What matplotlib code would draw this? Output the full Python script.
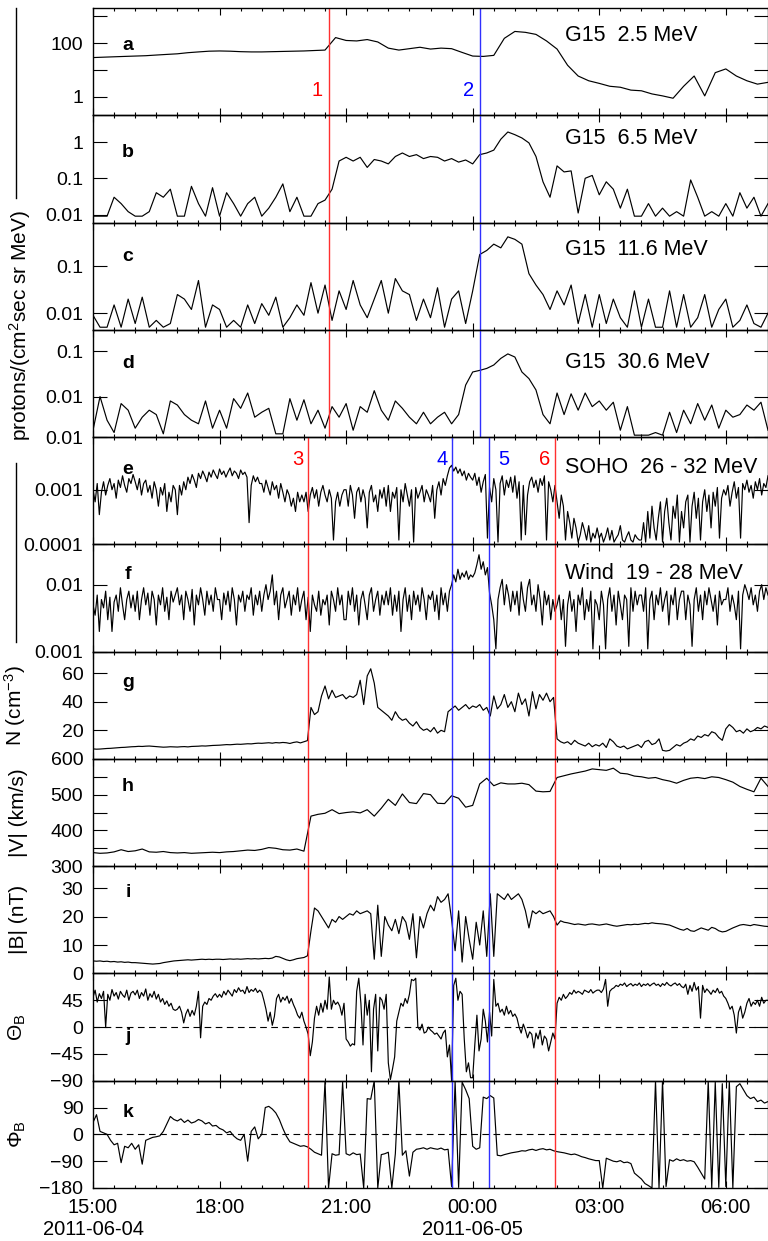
import numpy as np
import pandas as pd
import matplotlib
matplotlib.use("Agg")
import matplotlib.pyplot as plt
import matplotlib.dates as mdates
from matplotlib.lines import Line2D
from matplotlib.ticker import NullLocator, FuncFormatter

plt.rcParams['font.family'] = ['Liberation Sans', 'DejaVu Sans']
plt.rcParams['mathtext.fontset'] = 'custom'
plt.rcParams['mathtext.rm'] = 'Liberation Sans'
plt.rcParams['mathtext.it'] = 'Liberation Sans:italic'
plt.rcParams['mathtext.bf'] = 'Liberation Sans:bold'

# ----------------------------
# data
# ----------------------------
t15 = pd.date_range("2011-06-04 15:00", periods=65, freq="15min")
t10 = pd.date_range("2011-06-04 15:00", periods=97, freq="10min")
t5 = pd.date_range("2011-06-04 15:00", periods=193, freq="5min")
t3 = pd.date_range("2011-06-04 15:00", periods=321, freq="3min")

# G15 2.5 MeV (15 min)
g15_25 = [29, 30, 31, 32, 33, 34, 36, 38, 40, 44, 47, 50, 51, 50, 48, 47, 47, 48, 49, 50, 51, 53, 55,
          160, 125, 120, 135, 110, 65, 55, 62, 70, 60, 65, 62, 45, 33, 32, 35, 150, 270, 250, 210,
          120, 60, 15, 6, 4, 3.2, 2.5, 2.3, 1.8, 1.7, 1.3, 1.1, 0.9, 2.5, 6, 1.1, 8, 11, 6, 4, 3, 3.5]

# G15 6.5 MeV (10 min)
g15_65 = [0.009, 0.009, 0.009, 0.03, 0.02, 0.012,
          0.009, 0.009, 0.012, 0.04, 0.03, 0.05,
          0.009, 0.009, 0.06, 0.02, 0.009, 0.055,
          0.009, 0.04, 0.02, 0.009, 0.02, 0.03,
          0.009, 0.015, 0.03, 0.07, 0.012, 0.03,
          0.009, 0.009, 0.02, 0.025, 0.05, 0.3,
          0.38, 0.3, 0.38, 0.2, 0.33, 0.3,
          0.25, 0.4, 0.5, 0.4, 0.45, 0.35,
          0.4, 0.38, 0.3, 0.35, 0.28, 0.32,
          0.25, 0.45, 0.5, 0.6, 1.2, 1.9,
          1.6, 1.3, 0.95, 0.4, 0.08, 0.03,
          0.22, 0.15, 0.16, 0.011, 0.1, 0.12,
          0.035, 0.08, 0.05, 0.015, 0.05, 0.009,
          0.009, 0.02, 0.009, 0.015, 0.009, 0.012,
          0.009, 0.09, 0.03, 0.009, 0.012, 0.009,
          0.02, 0.009, 0.04, 0.015, 0.03, 0.009,
          0.02]

# G15 11.6 MeV (10 min)
g15_116 = [0.009, 0.005, 0.005, 0.015, 0.005, 0.02,
           0.006, 0.022, 0.005, 0.007, 0.005, 0.006,
           0.025, 0.02, 0.012, 0.05, 0.005, 0.015,
           0.012, 0.005, 0.007, 0.005, 0.015, 0.006,
           0.016, 0.009, 0.022, 0.005, 0.008, 0.015,
           0.009, 0.045, 0.01, 0.04, 0.007, 0.03,
           0.012, 0.05, 0.015, 0.008, 0.02, 0.05,
           0.01, 0.055, 0.03, 0.025, 0.007, 0.02,
           0.008, 0.035, 0.005, 0.02, 0.03, 0.006,
           0.03, 0.18, 0.22, 0.3, 0.25, 0.43,
           0.38, 0.3, 0.07, 0.04, 0.025, 0.012,
           0.03, 0.015, 0.04, 0.006, 0.025, 0.005,
           0.025, 0.006, 0.02, 0.008, 0.005, 0.03,
           0.005, 0.02, 0.005, 0.005, 0.03, 0.005,
           0.025, 0.005, 0.008, 0.025, 0.005, 0.012,
           0.02, 0.005, 0.007, 0.015, 0.006, 0.005,
           0.01]

# G15 30.6 MeV (10 min)
g15_306 = [0.0018, 0.01, 0.003, 0.0016, 0.007, 0.005,
           0.002, 0.0035, 0.005, 0.004, 0.0015, 0.008,
           0.0065, 0.004, 0.003, 0.0025, 0.008, 0.002,
           0.005, 0.002, 0.009, 0.0055, 0.012, 0.0035,
           0.0045, 0.0055, 0.0015, 0.0015, 0.009, 0.003,
           0.0085, 0.0025, 0.005, 0.002, 0.006, 0.0035,
           0.007, 0.0018, 0.006, 0.0045, 0.0135, 0.005,
           0.003, 0.008, 0.0055, 0.0035, 0.0025, 0.0045,
           0.0025, 0.0035, 0.0045, 0.0025, 0.004, 0.018,
           0.035, 0.038, 0.042, 0.05, 0.07, 0.088,
           0.075, 0.035, 0.025, 0.014, 0.004, 0.0025,
           0.012, 0.004, 0.0115, 0.005, 0.012, 0.006,
           0.008, 0.005, 0.0075, 0.0018, 0.006, 0.0014,
           0.0014, 0.0014, 0.0016, 0.0014, 0.0045, 0.0016,
           0.005, 0.0025, 0.007, 0.003, 0.0065, 0.002,
           0.005, 0.0035, 0.004, 0.0065, 0.005, 0.0075,
           0.0018]

# SOHO 26-32 MeV (3 min, units of 1e-4)
soho = np.array([
    10, 6, 13, 3.5, 9, 14, 8, 12, 16, 10, 13, 7, 15, 11, 18, 12, 9, 16, 13, 19,
    14, 10, 16, 8, 13, 15, 9, 12, 7, 14, 10, 5, 11, 8, 13, 4, 9, 6, 12, 10,
    3.5, 12, 8, 14, 10, 17, 13, 19, 15, 11, 20, 16, 22, 18, 14, 21, 17, 23, 19, 16,
    24, 19, 22, 17, 21, 25, 18, 22, 20, 16, 23, 19, 21, 17, 2.5, 12, 18, 14, 17, 13,
    13, 9, 15, 11, 8, 14, 10, 12, 7, 13, 9, 6, 10, 8, 5, 7, 4, 9, 6, 8,
    6, 9, 4, 8, 11, 7, 10, 5, 9, 12, 8, 6, 10, 7, 1.2, 6, 9, 5, 8, 10,
    10, 5, 12, 8, 3, 9, 11, 6, 10, 7, 2, 9, 12, 6, 8, 4, 10, 7, 11, 5,
    12, 4, 9, 7, 11, 1.2, 10, 6, 13, 8, 5, 10, 1.1, 11, 7, 9, 12, 6, 10, 8,
    6, 12, 3, 10, 14, 8, 16, 12, 18, 25, 28, 22, 26, 20, 24, 18, 22, 15, 20, 17,
    15, 20, 12, 17, 9, 14, 19, 1.3, 11, 6, 16, 10, 1.1, 13, 18, 8, 15, 11, 17, 9,
    18, 7, 14, 1.2, 12, 1.5, 8, 14, 17, 11, 15, 9, 16, 12, 18, 1.2, 14, 10, 6, 12,
    6, 3, 8, 5, 1.2, 4, 2.5, 1.3, 3, 2, 1.1, 1.5, 2.5, 1.8, 1.2, 2.2, 1.1, 1.6, 1.3, 2,
    1.3, 1.6, 1.1, 1.4, 2, 1.2, 1.8, 1.1, 1.3, 1.5, 2.2, 1.2, 1.1, 1.4, 1.7, 1.2, 1.1, 1.5, 1.3, 1.2,
    1.2, 2.5, 1.1, 4, 1.3, 5, 2, 1.2, 3, 6, 1.1, 4, 7, 2.5, 1.2, 5, 3, 8, 1.1, 4,
    2, 6, 8, 1.1, 5, 9, 3, 7, 1.2, 6, 10, 4, 8, 2, 9, 5, 11, 1.3, 7, 10,
    8, 12, 5, 9, 14, 7, 11, 1.3, 13, 10, 15, 9, 12, 7, 14, 10, 16, 8, 13, 11,
    18]) * 1e-4

# Wind 19-28 MeV (3 min, units of 1e-3)
wind = np.array([
    5, 3.5, 7, 2, 6, 4.5, 8, 3, 6.5, 2, 5.5, 7, 4, 9, 5, 3, 6, 8, 4.5, 7,
    4, 8, 3, 6, 9, 5, 7.5, 3.5, 8, 6, 2.5, 7, 5, 9, 4, 6.5, 3, 8, 5.5, 7,
    9, 5, 7, 3, 8, 6, 4, 8.5, 2.5, 7, 5, 9, 6, 3.5, 8, 5, 7, 4, 9, 6,
    6, 3, 7.5, 5, 8, 4, 9, 6, 2.5, 7, 5.5, 8, 4, 7, 6, 9, 3.5, 7, 5, 8,
    4, 7, 10, 6, 8, 14, 5, 8, 3, 7, 9, 4.5, 6, 8, 3.5, 7, 5, 9, 4, 6,
    8, 3, 6.5, 2, 7, 5, 4, 8, 3.5, 6, 5, 7, 2.5, 8, 6, 4, 9, 5, 7, 3,
    3, 8, 5, 9, 4, 7, 2.5, 6, 8, 5, 3, 7, 9, 4, 6, 8, 3.5, 7, 5, 8,
    5, 9, 3.5, 7, 4, 8, 2, 6, 9, 4, 7, 3, 8, 5, 7, 4, 9, 6, 3, 7,
    6, 8, 4, 7, 3, 9, 5, 7.5, 4, 8, 10, 14, 11, 17, 12, 15, 13, 16, 12, 14,
    13, 15, 20, 28, 17, 22, 14, 18, 7.5, 5, 3, 1.1, 6, 9, 12, 5, 10, 7, 4, 8,
    5, 8, 3.5, 11, 6, 4, 9, 12, 5, 7, 4, 10, 6, 2.5, 8, 5, 7, 3, 6, 4,
    5, 7, 3, 6, 1.2, 5, 8, 4, 6, 2, 7, 5, 9, 3, 6, 4, 8, 1.1, 6, 5,
    3, 8, 5, 1.1, 6, 9, 4, 7, 2.5, 8, 5, 3, 7, 6, 1.2, 9, 4, 8, 5, 7,
    7, 4, 9, 1.1, 6, 8, 3, 7, 5, 9, 4, 6, 8, 2.5, 7, 5, 9, 3, 6, 8,
    8, 3, 7, 5, 1.2, 6, 9, 4, 7, 3, 8, 5, 9, 6, 4, 7, 2.5, 8, 5, 6,
    6, 9, 4, 7, 5, 3, 8, 1.1, 7, 10, 8, 6, 9, 5, 7, 4, 8, 10, 6, 9,
    7]) * 1e-3

# N (cm^-3), 5 min
dens = [7.0, 6.8, 6.9, 7.1, 7.3, 7.4, 7.6, 7.8, 8.0, 8.1, 8.3, 8.5,
        8.6, 8.8, 8.7, 8.9, 9.0, 8.8, 8.6, 8.4, 8.2, 8.3, 8.5, 8.4,
        8.3, 8.5, 8.6, 8.4, 8.7, 8.8, 8.9, 9.1, 9.0, 9.2, 9.4, 9.5,
        9.6, 9.8, 10.0, 9.9, 10.1, 10.3, 10.2, 10.4, 10.6, 10.5, 10.8, 11.0,
        10.9, 11.1, 11.3, 11.0, 11.4, 11.2, 11.5, 11.3, 10.8, 11.5, 11.9, 11.2,
        12.0, 12.8, 36, 31, 33, 44, 51, 42, 48, 43, 44, 45,
        42, 44, 43, 45, 55, 38, 58, 63, 53, 36, 34, 32,
        30, 27, 33, 29, 27, 28, 25, 23, 26, 22, 20, 21,
        19, 22, 18, 20, 19, 33, 35, 37, 34, 36, 38, 35,
        37, 36, 38, 34, 36, 30, 44, 35, 38, 45, 36, 40,
        33, 46, 38, 42, 30, 47, 35, 45, 41, 46, 40, 43,
        14, 12, 11, 12, 10, 13, 11, 10, 9, 11, 8.5, 10,
        9, 11, 8, 14, 12, 9, 8, 9, 7, 8, 9, 10,
        8, 12, 13, 10, 11, 14, 6, 5.5, 6, 8, 10, 9,
        11, 12, 14, 13, 16, 15, 17, 16, 19, 18, 15, 13,
        21, 24, 22, 19, 20, 18, 21, 19, 20, 22, 21, 23,
        22]

# |V| (km/s), 10 min
speed = [338, 336, 337, 340, 346, 341,
         343, 348, 340, 339, 341, 338,
         337, 338, 336, 337, 338, 339,
         338, 340, 341, 343, 345, 344,
         347, 352, 350, 346, 345, 348,
         342, 440, 445, 448, 458, 447,
         450, 452, 449, 458, 440, 462,
         487, 470, 502, 478, 475, 503,
         500, 476, 475, 497, 490, 465,
         470, 530, 546, 525, 533, 530,
         530, 532, 528, 510, 508, 509,
         548, 553, 558, 562, 566, 572,
         570, 568, 574, 560, 558, 552,
         550, 546, 548, 542, 538, 532,
         540, 546, 548, 545, 550, 548,
         542, 535, 523, 515, 508, 546,
         523]

# |B| (nT), 5 min
bmag = [4.4, 4.3, 4.4, 4.2, 4.3, 4.1, 4.2, 4.0, 4.1, 3.9, 4.0, 3.8,
        3.8, 3.7, 3.6, 3.5, 3.4, 3.3, 3.4, 3.5, 3.8, 4.0, 4.2, 4.4,
        4.5, 4.6, 4.7, 4.8, 4.7, 4.8, 4.9, 5.0, 4.9, 5.0, 4.9, 5.0,
        5.0, 4.9, 5.0, 5.1, 5.0, 5.1, 5.0, 5.1, 5.2, 5.1, 5.2, 5.1,
        5.2, 5.3, 5.2, 5.4, 6.0, 5.8, 5.3, 4.8, 4.5, 4.8, 5.2, 5.4,
        5.6, 6.2, 15, 23, 22, 20, 18, 16, 19, 18, 20, 19,
        20, 21, 20.5, 22, 21, 21.5, 22, 21, 5, 24, 6, 20,
        17, 15, 19, 14, 20, 18, 12, 21, 5.5, 20, 16, 21,
        24, 22, 27, 25, 26, 28, 19, 8, 22, 4, 20, 12,
        5, 18, 10, 22, 6, 28, 6, 28, 27, 26, 28, 26,
        27, 28, 26, 22, 16, 22, 21, 22, 21, 21.5, 22, 20,
        17, 18.5, 18, 17.8, 17.5, 17.2, 17.4, 17.2, 17.0, 17.3, 17.4, 17.2,
        17.0, 17.2, 17.4, 17.1, 16.8, 16.6, 16.8, 17.0, 17.2, 17.1, 17.3, 17.2,
        17.4, 17.6, 17.5, 17.8, 17.6, 17.5, 17.4, 17.2, 17.0, 16.5, 16.0, 15.5,
        15.2, 15.8, 15.0, 14.8, 15.4, 16.0, 15.6, 15.2, 16.2, 15.8, 15.0, 14.6,
        14.8, 15.4, 16.0, 16.5, 17.0, 17.2, 17.0, 16.8, 17.2, 17.0, 16.8, 16.6,
        16.5]

# Theta_B (deg), 3 min
theta = [50, 62, 42, 56, 48, 60, 0, 55, 45, 63, 52, 58, 47, 60, 54, 50, 62, 45, 57, 60,
         54, 62, 48, 58, 52, 64, 45, 56, 50, 60, 47, 55, 42, 48, 38, 44, 35, 40, 30, 28,
         30, 35, 25, 7, 22, 30, 18, 28, 20, 35, 60, -18, 35, 42, 38, 48, 45, 52, 56, 50,
         55, 50, 60, 54, 62, 57, 52, 63, 58, 66, 60, 62, 56, 68, 58, 63, 60, 65, 58, 62,
         58, 45, 30, 10, 25, 3, 18, 48, 55, 42, 50, 45, 52, 40, 48, 38, 30, 20, 15, 25,
         10, 0, -12, -48, -25, 15, 35, 20, 40, 25, 45, 30, 84, 30, 45, 38, 42, 35, 20, 40,
         -20, -25, -32, -28, -30, 60, 82, 40, -30, 55, 20, 45, -75, 30, 55, -40, 50, 45, 30, 55,
         -60, -88, -70, -50, 10, 25, 40, 35, 48, 40, 55, 80, 78, 82, 0, -5, 5, -10, -8, 0,
         -5, -8, -12, -10, -15, -20, -10, -5, -50, -30, -90, 70, 82, 45, 60, 55, -20, -75, -60, -85,
         -85, -30, 20, -40, -20, 30, 10, -25, 25, -15, 80, 35, 40, 25, 30, 20, 35, 22, 28, 18,
         22, 15, 0, -10, 5, -5, -18, -8, -12, -35, -10, -20, -5, -30, -15, -20, -40, -25, -10, -20,
         40, 50, 45, 55, 48, 52, 58, 55, 62, 57, 60, 58, 55, 62, 60, 58, 63, 57, 60, 62,
         62, 58, 64, 80, 35, 60, 64, 66, 70, 68, 72, 70, 74, 68, 71, 73, 69, 72, 70, 74,
         68, 72, 70, 73, 69, 72, 74, 70, 72, 68, 73, 70, 75, 71, 69, 72, 74, 70, 73, 68,
         66, 72, 55, 70, 60, 75, 62, 68, 15, 70, 58, 64, 60, 55, 62, 58, 65, 57, 60, 52,
         48, 40, 30, 35, 20, -10, 25, 35, 15, 25, 40, 48, 35, 42, 38, 45, 35, 50, 40, 45,
         45]

# Phi_B (deg), 5 min
phi = [40, 66, 10, 5, 0, -20, -35, -30, -95, -40, -45, -30,
       -50, -35, -100, -20, -15, -10, -8, -5, 10, 35, 60, 50,
       45, 52, 40, 48, 38, 42, 50, 45, 35, 40, 28, 30,
       20, 15, 5, 10, -5, -15, -20, 0, -90, 10, 25, -15,
       0, 90, 94, 85, 72, 50, 20, -6, -25, -30, -35, -40,
       -38, -42, -50, -60, -65, -70, 180, -180, -65, -70, -68, 175,
       -65, -70, -62, -68, -66, -180, 120, 118, 180, -180, -68, -65,
       -60, -180, -65, 180, -70, -55, -140, -60, -50, -48, -45, -50,
       -45, -48, -50, -46, -52, -50, -175, 178, -178, 175, 150, 120,
       -40, -50, -45, 125, 120, 130, 122, -70, -72, -68, -65, -62,
       -60, -58, -55, -56, -52, -50, -54, -50, -48, -52, -50, -55,
       -58, -60, -62, -65, -68, -66, -70, -75, -78, -82, -85, -88,
       -88, -180, -80, -85, -90, -92, -88, -95, -93, -98, -130, -140,
       -150, -165, -172, -180, 180, -180, 180, -175, -85, -90, -82, -88,
       -85, -90, -88, -92, -110, -130, -150, 180, -180, 175, -178, 170,
       -175, 178, -180, 160, 170, 150, 130, 120, 125, 110, 115, 105,
       110]

# event lines: (time, label, color)
events_top = [("2011-06-04 20:36", "1", "red"), ("2011-06-05 00:11", "2", "blue")]
events_bot = [("2011-06-04 20:06", "3", "red"), ("2011-06-04 23:31", "4", "blue"),
              ("2011-06-05 00:23", "5", "blue"), ("2011-06-05 01:57", "6", "red")]

# ----------------------------
# figure layout
# ----------------------------
W, H = 768, 1241
fig = plt.figure(figsize=(W / 100, H / 100), dpi=100)
x0, x1 = 93, 768
ytop, ybot = 8, 1188
npan = 11
ph = (ybot - ytop) / npan
axes = []
for k in range(npan):
    top = ytop + k * ph
    ax = fig.add_axes([x0 / W, 1 - (top + ph) / H, (x1 - x0) / W, ph / H])
    ax.set_facecolor("none")
    axes.append(ax)

t_start = pd.Timestamp("2011-06-04 15:00")
t_end = pd.Timestamp("2011-06-05 07:00")

for ax in axes:
    ax.set_xlim(t_start, t_end)
    ax.xaxis.set_major_locator(mdates.HourLocator(byhour=range(0, 24, 3)))
    ax.xaxis.set_minor_locator(mdates.MinuteLocator(byminute=[0, 30]))
    ax.tick_params(axis="x", which="both", direction="in", top=True, bottom=True, labelbottom=False)
    ax.tick_params(axis="x", which="major", length=5, width=0.8)
    ax.tick_params(axis="x", which="minor", length=2.4, width=0.8)
    ax.tick_params(axis="y", which="both", direction="in", left=True, right=True,
                   length=10, width=0.8, labelsize=14, pad=7)
    for s in ax.spines.values():
        s.set_linewidth(1.0)

lw = 0.85
series = [
    (t15, g15_25, (0.21, 2000), [1, 10, 100, 1000], ["1", "", "100", ""]),
    (t10, g15_65, (0.006, 5.5), [0.01, 0.1, 1], ["0.01", "0.1", "1"]),
    (t10, g15_116, (0.0044, 0.87), [0.01, 0.1], ["0.01", "0.1"]),
    (t10, g15_306, (0.00127, 0.3), [0.00127, 0.01, 0.1], ["0.01", "0.01", "0.1"]),
    (t3, soho, (1e-4, 0.0092), [1e-4, 1e-3], ["0.0001", "0.001"]),
    (t3, wind, (1e-3, 0.04), [1e-3, 1e-2], ["0.001", "0.01"]),
]
for ax, (tt, vv, lim, tk, lb) in zip(axes[:6], series):
    ax.plot(tt, vv, color="k", lw=lw)
    ax.set_yscale("log")
    ax.set_ylim(*lim)
    ax.set_yticks(tk, lb)
    ax.yaxis.set_minor_locator(NullLocator())

axes[6].plot(t5, dens, color="k", lw=lw)
axes[6].set_ylim(0, 75)
axes[6].set_yticks([20, 40, 60])

axes[7].plot(t10, speed, color="k", lw=lw)
axes[7].set_ylim(300, 600)
axes[7].set_yticks([300, 400, 500, 600])
axes[7].set_yticks([350, 450, 550], minor=True)

axes[8].plot(t5, bmag, color="k", lw=lw)
axes[8].set_ylim(0, 37.7)
axes[8].set_yticks([0, 10, 20, 30])

axes[9].plot(t3, theta, color="k", lw=lw)
axes[9].set_ylim(-90, 90)
axes[9].set_yticks([-90, -45, 0, 45])
axes[9].axhline(0, color="k", lw=0.8, ls=(0, (6, 4)))

axes[10].plot(t5, phi, color="k", lw=lw)
axes[10].set_ylim(-180, 180)
axes[10].set_yticks([-180, -90, 0, 90])
axes[10].axhline(0, color="k", lw=0.8, ls=(0, (6, 4)))

# bottom time labels
def tfmt(x, pos):
    d = mdates.num2date(x)
    if d.hour == 0 or (d.hour == 15 and d.day == 4):
        return d.strftime("%H:%M\n%Y-%m-%d")
    return d.strftime("%H:%M")

axes[10].xaxis.set_major_formatter(FuncFormatter(tfmt))
axes[10].tick_params(axis="x", labelbottom=True, labelsize=14.5, pad=7)

# y labels
ylabs = {6: "N (cm$^{-3}$)", 7: "|V| (km/s)", 8: "|B| (nT)", 9: "Θ$_\\mathrm{B}$", 10: "Φ$_\\mathrm{B}$"}
for k, s in ylabs.items():
    axes[k].set_ylabel(s, fontsize=15)
    axes[k].yaxis.set_label_coords((28 - x0) / (x1 - x0), 0.5)

fig.text(20 / W, 1 - 325 / H, "protons/(cm$^{2}$sec sr MeV)", rotation=90,
         ha="center", va="center", fontsize=15)
fig.add_artist(Line2D([16 / W, 16 / W], [1 - 8 / H, 1 - 198 / H], color="k", lw=1.0))
fig.add_artist(Line2D([16 / W, 16 / W], [1 - 463 / H, 1 - 642 / H], color="k", lw=1.0))

# panel letters
letters = "abcdefghijk"
let_y = [0.654, 0.65, 0.68, 0.69, 0.70, 0.72, 0.71, 0.74, 0.757, 0.41, 0.70]
for ax, l, yy in zip(axes, letters, let_y):
    ax.text(0.052, yy, l, transform=ax.transAxes, fontsize=14, fontweight="bold",
            ha="center", va="center")

# panel titles
titles = ["G15  2.5 MeV", "G15  6.5 MeV", "G15  11.6 MeV", "G15  30.6 MeV",
          "SOHO  26 - 32 MeV", "Wind  19 - 28 MeV"]
tit_y = [0.748, 0.787, 0.748, 0.70, 0.713, 0.729]
for ax, s, yy in zip(axes[:6], titles, tit_y):
    ax.text(0.699, yy, s, transform=ax.transAxes, fontsize=15.5, ha="left", va="center")

# event lines
cmap = {"red": "#ff3030", "blue": "#3030ff"}
tcol = {"red": "#ff0000", "blue": "#0000ff"}
for tstr, lab, c in events_top:
    tt = pd.Timestamp(tstr)
    for ax in axes[:4]:
        ax.axvline(tt, color=cmap[c], lw=1.0)
    axes[0].annotate(lab, xy=(tt, 0.234), xycoords=("data", "axes fraction"),
                     xytext=(-4.5, 0), textcoords="offset points", ha="right", va="center",
                     color=tcol[c], fontsize=14.5)
for tstr, lab, c in events_bot:
    tt = pd.Timestamp(tstr)
    for ax in axes[4:]:
        ax.axvline(tt, color=cmap[c], lw=1.0)
    if lab == "5":
        off, ha = 6.5, "left"
    else:
        off, ha = -3.6, "right"
    axes[4].annotate(lab, xy=(tt, 0.79), xycoords=("data", "axes fraction"),
                     xytext=(off, 0), textcoords="offset points", ha=ha, va="center",
                     color=tcol[c], fontsize=14.5)

fig.savefig("out.png", dpi=100)
